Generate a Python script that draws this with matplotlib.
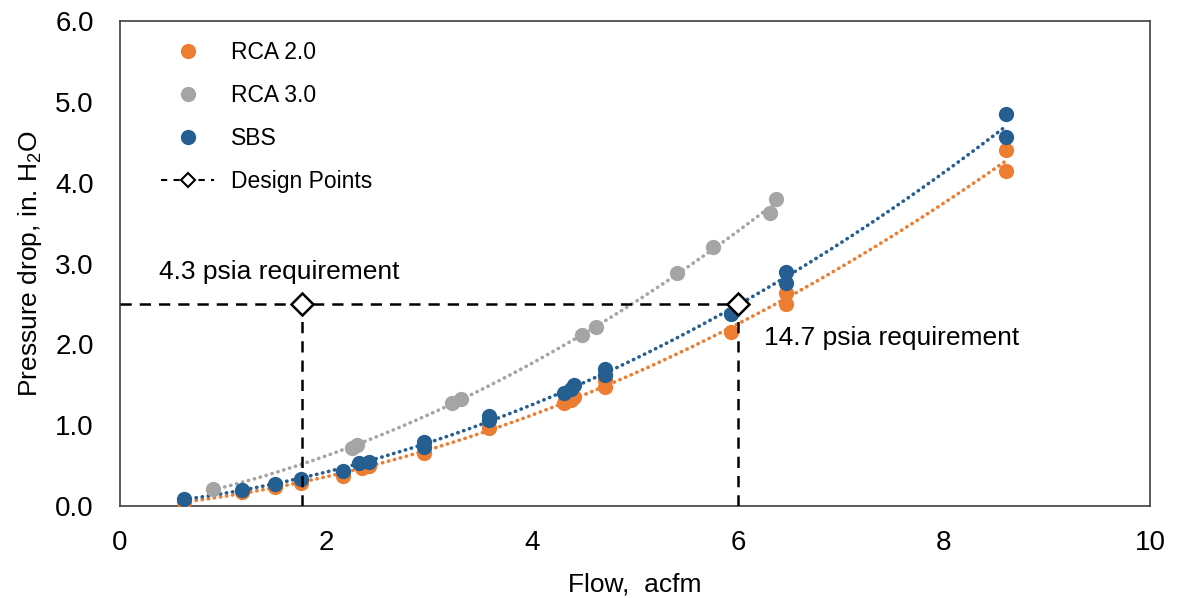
import numpy as np
import matplotlib.pyplot as plt
from matplotlib.lines import Line2D

plt.rcParams['font.family'] = ['Liberation Sans', 'DejaVu Sans']
plt.rcParams['mathtext.default'] = 'regular'

# RCA 2.0 test data
rca2_x = [0.62, 1.18, 1.50, 1.76, 2.16, 2.35, 2.42, 2.95, 3.58, 4.31, 4.38, 4.41,
          4.71, 4.71, 5.93, 6.47, 6.47, 8.60, 8.60]
rca2_y = [0.05, 0.17, 0.23, 0.29, 0.37, 0.47, 0.50, 0.65, 0.96, 1.27, 1.31, 1.35,
          1.47, 1.56, 2.15, 2.50, 2.63, 4.15, 4.40]

# RCA 3.0 test data
rca3_x = [0.90, 2.25, 2.30, 3.22, 3.31, 4.49, 4.62, 5.41, 5.76, 6.31, 6.37]
rca3_y = [0.21, 0.72, 0.75, 1.27, 1.32, 2.12, 2.22, 2.88, 3.20, 3.63, 3.80]

# SBS test data
sbs_x = [0.62, 1.18, 1.50, 1.76, 2.16, 2.32, 2.42, 2.95, 2.95, 3.58, 3.58, 4.31,
         4.38, 4.41, 4.71, 4.71, 5.93, 6.47, 6.47, 8.60, 8.60]
sbs_y = [0.09, 0.20, 0.27, 0.34, 0.43, 0.53, 0.55, 0.73, 0.79, 1.06, 1.11, 1.40,
         1.45, 1.50, 1.62, 1.70, 2.38, 2.76, 2.90, 4.56, 4.85]

# design points
design_x = [1.77, 6.0]
design_y = 2.5
design_labels = ["4.3 psia requirement", "14.7 psia requirement"]

series = [
    ("RCA 2.0", rca2_x, rca2_y, '#ED7D31'),
    ("RCA 3.0", rca3_x, rca3_y, '#A5A5A5'),
    ("SBS", sbs_x, sbs_y, '#255E91'),
]

fig = plt.figure(figsize=(11.78, 5.98), dpi=100)
ax = fig.add_axes([0.1019, 0.1538, 0.8743, 0.8111])

handles = []
for name, xs, ys, col in series:
    # 2nd order poly trendline like excel
    c = np.polyfit(xs, ys, 2)
    xx = np.linspace(min(xs), max(xs), 200)
    ax.plot(xx, np.polyval(c, xx), color=col, lw=2.6, linestyle=(0, (0.1, 1.6)),
            dash_capstyle='round', zorder=2)
    h, = ax.plot(xs, ys, 'o', color=col, ms=11, mec='none', zorder=3, label=name)
    handles.append(h)

# dashed design lines
ax.plot([0, design_x[1]], [design_y, design_y], color='black', lw=1.8,
        linestyle=(0, (4.5, 3.2)), zorder=4)
for dx in design_x:
    ax.plot([dx, dx], [0, design_y], color='black', lw=1.8,
            linestyle=(0, (4.5, 3.2)), zorder=4)
ax.plot(design_x, [design_y] * 2, 'D', ms=11, mfc='white', mec='black', mew=1.8,
        linestyle='none', zorder=5)

ax.text(0.38, 2.9, design_labels[0], fontsize=19, va='center', ha='left')
ax.text(6.25, 2.08, design_labels[1], fontsize=19, va='center', ha='left')

dp = Line2D([], [], color='black', lw=1.5, linestyle=(0, (3, 3)), marker='D', ms=7,
            mfc='white', mec='black', mew=1.5)
handles.append(dp)
ax.legend(handles, ["RCA 2.0", "RCA 3.0", "SBS", "Design Points"], loc='upper left',
          frameon=False, fontsize=16.5, bbox_to_anchor=(0.02, 1.002), labelspacing=0.88,
          handlelength=2.3, handletextpad=0.75)

ax.set_xlim(0, 10)
ax.set_ylim(0, 6)
ax.set_xticks(range(0, 11, 2))
ax.set_yticks(np.arange(0, 6.1, 1.0))
ax.set_yticklabels([f"{v:.1f}" for v in np.arange(0, 6.1, 1.0)])
ax.tick_params(length=0, labelsize=20)
ax.tick_params(axis='y', pad=19)
ax.tick_params(axis='x', pad=17)
for s in ax.spines.values():
    s.set_color('#404040')
    s.set_linewidth(1.2)

ax.set_xlabel("Flow,  acfm", fontsize=19, labelpad=12)
ax.set_ylabel("Pressure drop, in. H$_2$O", fontsize=19, labelpad=8)

fig.savefig("out.png", dpi=100)
